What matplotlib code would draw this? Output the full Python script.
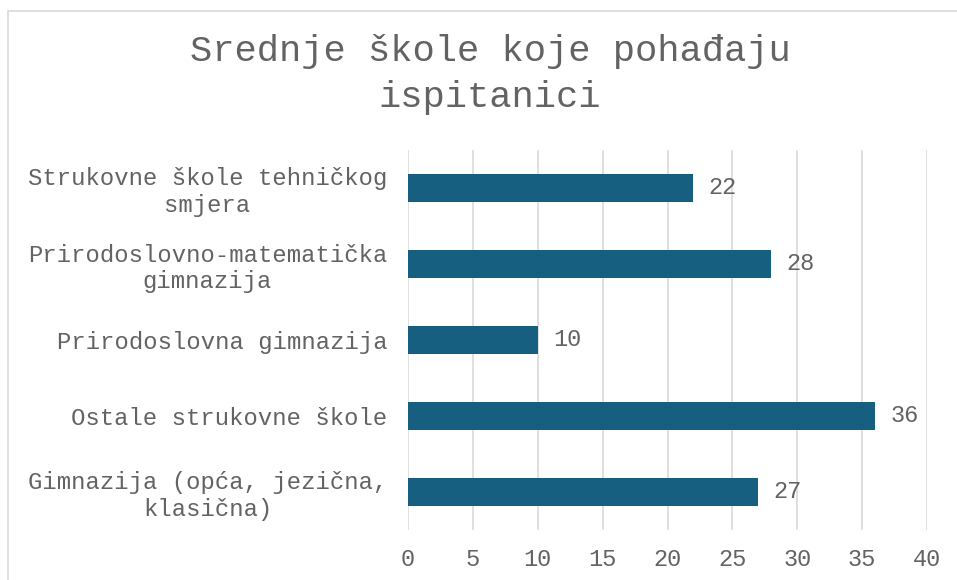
import matplotlib

matplotlib.use("Agg")
import matplotlib.pyplot as plt  # noqa: E402
from matplotlib.patches import Rectangle  # noqa: E402

# Data (bottom to top as drawn)
categories = [
    "Gimnazija (opća, jezična,\nklasična)",
    "Ostale strukovne škole",
    "Prirodoslovna gimnazija",
    "Prirodoslovno-matematička\ngimnazija",
    "Strukovne škole tehničkog\nsmjera",
]
values = [27, 36, 10, 28, 22]
xticks = [0, 5, 10, 15, 20, 25, 30, 35, 40]

BAR = "#175f80"
TXT = "#636363"
GRID = "#d9d9d9"
FONT = ["Liberation Mono", "DejaVu Sans Mono"]

plt.rcParams["font.family"] = FONT

fig = plt.figure(figsize=(9.57, 5.8), dpi=100)
# outer chart border
fig.patches.append(Rectangle((8 / 957, -0.01), 1.0, 1 - 11 / 580 + 0.01,
                             transform=fig.transFigure, fill=False,
                             edgecolor=GRID, linewidth=1.2))

ax = fig.add_axes([408 / 957, 50 / 580, (927 - 408) / 957, 380 / 580])
ypos = range(len(categories))
bars = ax.barh(ypos, values, height=0.37, color=BAR, zorder=3)
ax.bar_label(bars, labels=[str(v) for v in values], padding=11,
             fontsize=17, color=TXT)

ax.set_xlim(0, 40)
ax.set_ylim(-0.5, len(categories) - 0.5)
ax.set_xticks(xticks)
ax.set_xticklabels([str(t) for t in xticks], fontsize=17, color=TXT)
ax.set_yticks(list(ypos))
ax.set_yticklabels(categories, fontsize=17.2, color=TXT, multialignment="center")
ax.tick_params(axis="x", length=0, pad=13)
ax.tick_params(axis="y", length=0, pad=15)
ax.grid(axis="x", color=GRID, linewidth=1.2, zorder=0)
for s in ax.spines.values():
    s.set_visible(False)

fig.text(0.512, 0.872, "Srednje škole koje pohađaju\nispitanici", ha="center",
         va="center", fontsize=26.7, color=TXT, linespacing=1.4)

fig.savefig("out.png", dpi=100)
